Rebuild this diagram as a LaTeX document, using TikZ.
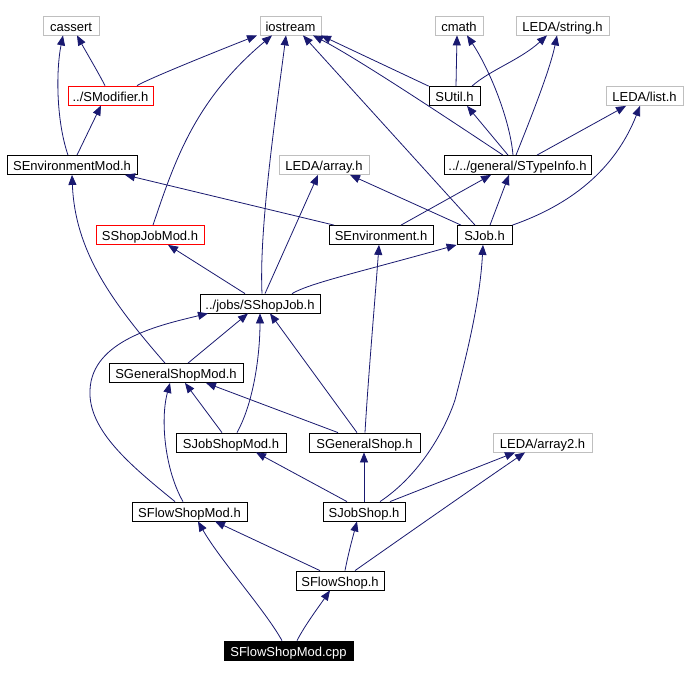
\documentclass[tikz,border=0pt]{standalone}
\usepackage{fontspec}
\setmainfont{Liberation Sans}
\usetikzlibrary{arrows.meta}
\definecolor{edgeblue}{HTML}{191970}
\definecolor{boxgray}{HTML}{BFBFBF}
\begin{document}
\begin{tikzpicture}[x=1pt,y=-1pt,
  box/.style={draw=black, line width=0.8pt, inner sep=0pt, minimum height=19pt,
    text height=13pt, text depth=2pt,
    font=\fontsize{13}{15}\selectfont, text=black, fill=white},
  ext/.style={box, draw=boxgray},
  redbox/.style={box, draw=red},
  mainbox/.style={box, fill=black, text=white},
  dep/.style={draw=edgeblue, line width=0.8pt, -{Triangle[length=10pt,width=8pt]}},
]
\useasboundingbox[fill=white] (0,0) rectangle (688,678);

% nodes
\node[ext, minimum width=56pt] (cassert) at (71,25.5) {cassert};
\node[ext, minimum width=61pt] (iostream) at (290.5,25.5) {iostream};
\node[ext, minimum width=48pt] (cmath) at (459,25.5) {cmath};
\node[ext, minimum width=93pt] (ledastring) at (562.5,25.5) {LEDA/string.h};
\node[redbox, minimum width=85pt] (smod) at (110.5,95.5) {../SModifier.h};
\node[box, minimum width=51pt] (sutil) at (454.5,96) {SUtil.h};
\node[ext, minimum width=77pt] (ledalist) at (644.5,96) {LEDA/list.h};
\node[box, minimum width=130pt] (senvmod) at (72,165) {SEnvironmentMod.h};
\node[ext, minimum width=90pt] (ledaarray) at (324,165) {LEDA/array.h};
\node[box, minimum width=147pt] (stypeinfo) at (517.5,165) {../../general/STypeInfo.h};
\node[redbox, minimum width=108pt] (sshopjobmod) at (150,235) {SShopJobMod.h};
\node[box, minimum width=104pt] (senv) at (381,235) {SEnvironment.h};
\node[box, minimum width=55pt] (sjob) at (484.5,235) {SJob.h};
\node[box, minimum width=120pt] (sshopjob) at (260,303.5) {../jobs/SShopJob.h};
\node[box, minimum width=134pt] (sgenshopmod) at (176,373) {SGeneralShopMod.h};
\node[box, minimum width=110pt] (sjobshopmod) at (231,442.5) {SJobShopMod.h};
\node[box, minimum width=111pt] (sgenshop) at (364.5,442.5) {SGeneralShop.h};
\node[ext, minimum width=99pt] (ledaarray2) at (542.5,442.5) {LEDA/array2.h};
\node[box, minimum width=115pt] (sflowshopmod) at (189.5,511.5) {SFlowShopMod.h};
\node[box, minimum width=82pt] (sjobshop) at (364,511.5) {SJobShop.h};
\node[box, minimum width=88pt] (sflowshop) at (340,580.5) {SFlowShop.h};
\node[mainbox, minimum width=129pt] (cpp) at (288.5,650.5) {SFlowShopMod.cpp};

% edges
\draw[dep] (smod.north -| 105,0) .. controls (98,72) and (85,50) .. (cassert.south -| 77,0);
\draw[dep] (smod.north -| 137,0) .. controls (150,78) and (220,50) .. (iostream.south -| 257,0);
\draw[dep] (senvmod.north -| 68,0) .. controls (56,120) and (56,70) .. (cassert.south -| 63,0);
\draw[dep] (senvmod.north -| 77,0) -- (smod.south -| 101,0);
\draw[dep] (sshopjobmod.north -| 153,0) .. controls (175,160) and (195,100) .. (iostream.south -| 272,0);
\draw[dep] (sshopjob.north -| 262,0) .. controls (259,230) and (275,120) .. (iostream.south -| 286,0);
\draw[dep] (sjob.north -| 475,0) -- (iostream.south -| 303,0);
\draw[dep] (sutil.north west) -- (iostream.south -| 321,0);
\draw[dep] (sutil.north -| 456,0) -- (cmath.south -| 457,0);
\draw[dep] (sutil.north -| 472,0) .. controls (490,70) and (520,60) .. (ledastring.south -| 547,0);
\draw[dep] (stypeinfo.north -| 503,0) .. controls (450,120) and (360,60) .. (iostream.south -| 313,0);
\draw[dep] (stypeinfo.north -| 513,0) .. controls (510,120) and (490,70) .. (cmath.south -| 467,0);
\draw[dep] (stypeinfo.north -| 516,0) .. controls (530,120) and (550,70) .. (ledastring.south -| 557,0);
\draw[dep] (stypeinfo.north -| 508,0) -- (sutil.south -| 467,0);
\draw[dep] (stypeinfo.north -| 537,0) -- (ledalist.south -| 626,0);
\draw[dep] (senv.north -| 334,0) -- (senvmod.south -| 125,0);
\draw[dep] (senv.north -| 401,0) -- (stypeinfo.south -| 491,0);
\draw[dep] (sjob.north -| 461,0) -- (ledaarray.south -| 350,0);
\draw[dep] (sjob.north -| 490,0) -- (stypeinfo.south -| 509,0);
\draw[dep] (sjob.north east) .. controls (570,205) and (615,170) .. (ledalist.south -| 640,0);
\draw[dep] (sshopjob.north -| 245,0) -- (sshopjobmod.south -| 168,0);
\draw[dep] (sshopjob.north -| 265,0) -- (ledaarray.south -| 318,0);
\draw[dep] (sshopjob.north -| 292,0) .. controls (310,283) and (360,272) .. (sjob.south west);
\draw[dep] (sgenshopmod.north -| 165,0) .. controls (110,300) and (75,250) .. (senvmod.south -| 72,0);
\draw[dep] (sgenshopmod.north -| 188,0) -- (sshopjob.south -| 248,0);
\draw[dep] (sflowshopmod.north -| 175,0) .. controls (130,465) and (88,430) .. (90,390)
   .. controls (92,340) and (160,325) .. (sshopjob.south -| 208,0);
\draw[dep] (sjobshopmod.north -| 222,0) -- (sgenshopmod.south -| 185,0);
\draw[dep] (sjobshopmod.north -| 237,0) .. controls (255,400) and (260,350) .. (sshopjob.south -| 260,0);
\draw[dep] (sgenshop.north -| 338,0) -- (sgenshopmod.south -| 206,0);
\draw[dep] (sgenshop.north -| 357,0) -- (sshopjob.south -| 270,0);
\draw[dep] (sgenshop.north -| 365,0) .. controls (368,380) and (375,300) .. (senv.south -| 379,0);
\draw[dep] (sflowshopmod.north -| 183,0) .. controls (165,470) and (160,420) .. (sgenshopmod.south -| 170,0);
\draw[dep] (sjobshop.north -| 347,0) -- (sjobshopmod.south -| 256,0);
\draw[dep] (sjobshop.north -| 364,0) -- (sgenshop.south -| 364,0);
\draw[dep] (sjobshop.north -| 380,0) .. controls (420,475) and (445,430) .. (455,400)
   .. controls (468,350) and (480,300) .. (sjob.south -| 483,0);
\draw[dep] (sjobshop.north -| 390,0) -- (ledaarray2.south -| 515,0);
\draw[dep] (sflowshop.north -| 320,0) -- (sflowshopmod.south -| 215,0);
\draw[dep] (sflowshop.north -| 345,0) .. controls (348,555) and (352,540) .. (sjobshop.south -| 357,0);
\draw[dep] (sflowshop.north -| 355,0) .. controls (370,560) and (470,490) .. (ledaarray2.south -| 525,0);
\draw[dep] (cpp.north -| 282,0) .. controls (265,610) and (220,560) .. (sflowshopmod.south -| 198,0);
\draw[dep] (cpp.north -| 297,0) .. controls (305,625) and (320,605) .. (sflowshop.south -| 330,0);
\end{tikzpicture}
\end{document}
